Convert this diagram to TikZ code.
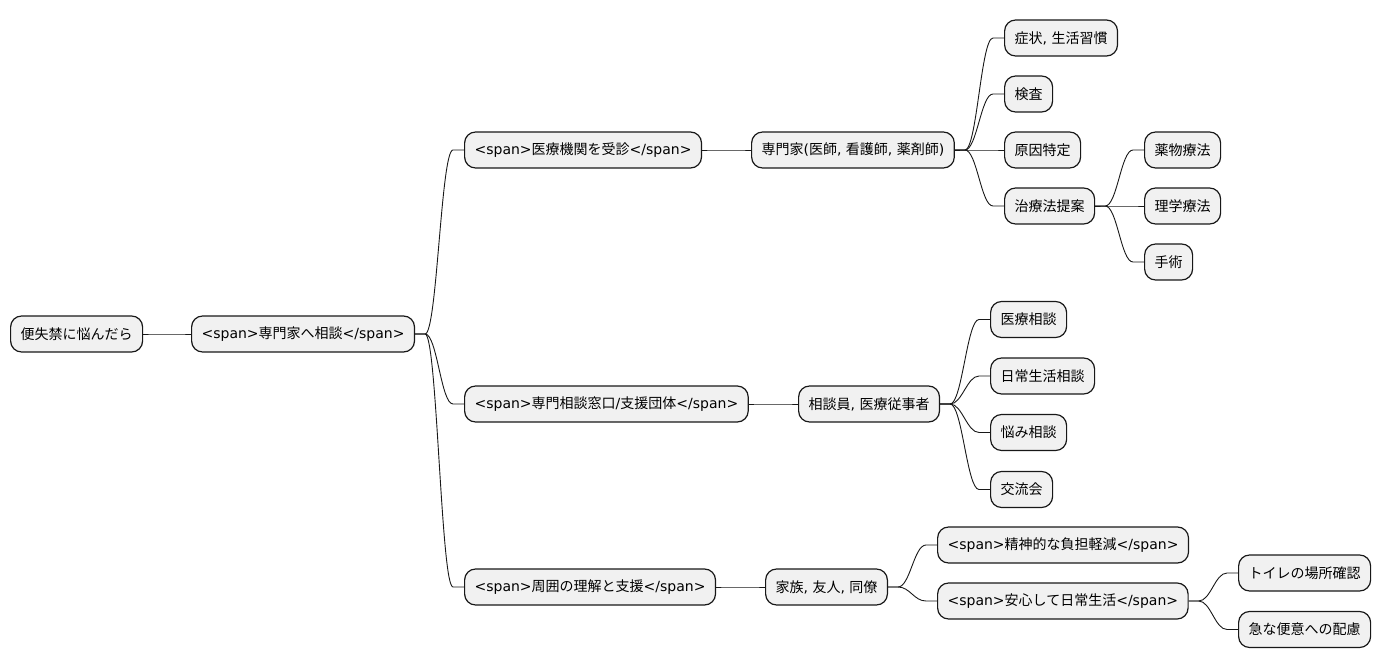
\documentclass[tikz,border=0pt]{standalone}
\usepackage{fontspec}
\setmainfont{DejaVu Sans}
\newfontfamily\jpfont{Noto Sans CJK JP}
\usetikzlibrary{calc}

% kana and kanji in the Japanese font, the rest in DejaVu Sans
\XeTeXinterchartokenstate=1
\newXeTeXintercharclass\jpclass
\newcount\jpc
\def\setjprange#1#2{\jpc=#1 \loop \XeTeXcharclass\jpc=\jpclass \ifnum\jpc<#2 \advance\jpc by 1 \repeat}
\setjprange{"3000}{"30FF}
\setjprange{"4E00}{"9FFF}
\setjprange{"FF00}{"FFEF}
\XeTeXinterchartoks 0 \jpclass = {\jpfont}
\XeTeXinterchartoks 4095 \jpclass = {\jpfont}
\XeTeXinterchartoks \jpclass 0 = {\rmfamily}
\XeTeXinterchartoks \jpclass 4095 = {\rmfamily}

\definecolor{boxgray}{HTML}{F1F1F1}
\definecolor{linegray}{HTML}{181818}

\begin{document}
\begin{tikzpicture}[x=1pt, y=-1pt,
    box/.style={draw=linegray, fill=boxgray, line width=1.2pt, rounded corners=11pt,
        minimum height=36pt, inner xsep=10pt, inner ysep=0pt, anchor=west,
        font=\fontsize{14pt}{17pt}\selectfont},
    branch/.style={draw=linegray, line width=0.9pt,
        to path={-- ++(10,0) .. controls +(12,0) and +(-12,0) .. ($(\tikztotarget)+(-11,0)$) -- (\tikztotarget)}}]

    \useasboundingbox (0,0) rectangle (1381,668);

    % root
    \node[box] (root) at (10,334) {便失禁に悩んだら};
    \node[box] (soudan) at (191,334) {<span>専門家へ相談</span>};

    % medical institution
    \node[box] (iryou) at (464,150) {<span>医療機関を受診</span>};
    \node[box] (senmonka) at (751,150) {専門家(医師, 看護師, 薬剤師)};
    \node[box] (shojo) at (1004,38) {症状, 生活習慣};
    \node[box] (kensa) at (1004,94) {検査};
    \node[box] (genin) at (1004,150) {原因特定};
    \node[box] (chiryo) at (1004,206) {治療法提案};
    \node[box] (yakubutsu) at (1144,150) {薬物療法};
    \node[box] (rigaku) at (1144,206) {理学療法};
    \node[box] (shujutsu) at (1144,262) {手術};

    % counselling
    \node[box] (madoguchi) at (464,404) {<span>専門相談窓口/支援団体</span>};
    \node[box] (soudanin) at (798,404) {相談員, 医療従事者};
    \node[box] (iryousoudan) at (990,319.5) {医療相談};
    \node[box] (nichijou) at (990,376) {日常生活相談};
    \node[box] (nayami) at (990,432.5) {悩み相談};
    \node[box] (kouryu) at (990,489.5) {交流会};

    % people around
    \node[box] (shuui) at (464,587) {<span>周囲の理解と支援</span>};
    \node[box] (kazoku) at (765,587) {家族, 友人, 同僚};
    \node[box] (seishin) at (937,545) {<span>精神的な負担軽減</span>};
    \node[box] (anshin) at (937,601) {<span>安心して日常生活</span>};
    \node[box] (toire) at (1238,573) {トイレの場所確認};
    \node[box] (kyuuna) at (1238,629.5) {急な便意への配慮};

    % branches
    \draw[branch] (root.east) to (soudan.west);
    \foreach \c in {iryou, madoguchi, shuui}
        \draw[branch] (soudan.east) to (\c.west);
    \draw[branch] (iryou.east) to (senmonka.west);
    \foreach \c in {shojo, kensa, genin, chiryo}
        \draw[branch] (senmonka.east) to (\c.west);
    \foreach \c in {yakubutsu, rigaku, shujutsu}
        \draw[branch] (chiryo.east) to (\c.west);
    \draw[branch] (madoguchi.east) to (soudanin.west);
    \foreach \c in {iryousoudan, nichijou, nayami, kouryu}
        \draw[branch] (soudanin.east) to (\c.west);
    \draw[branch] (shuui.east) to (kazoku.west);
    \foreach \c in {seishin, anshin}
        \draw[branch] (kazoku.east) to (\c.west);
    \foreach \c in {toire, kyuuna}
        \draw[branch] (anshin.east) to (\c.west);

\end{tikzpicture}
\end{document}
